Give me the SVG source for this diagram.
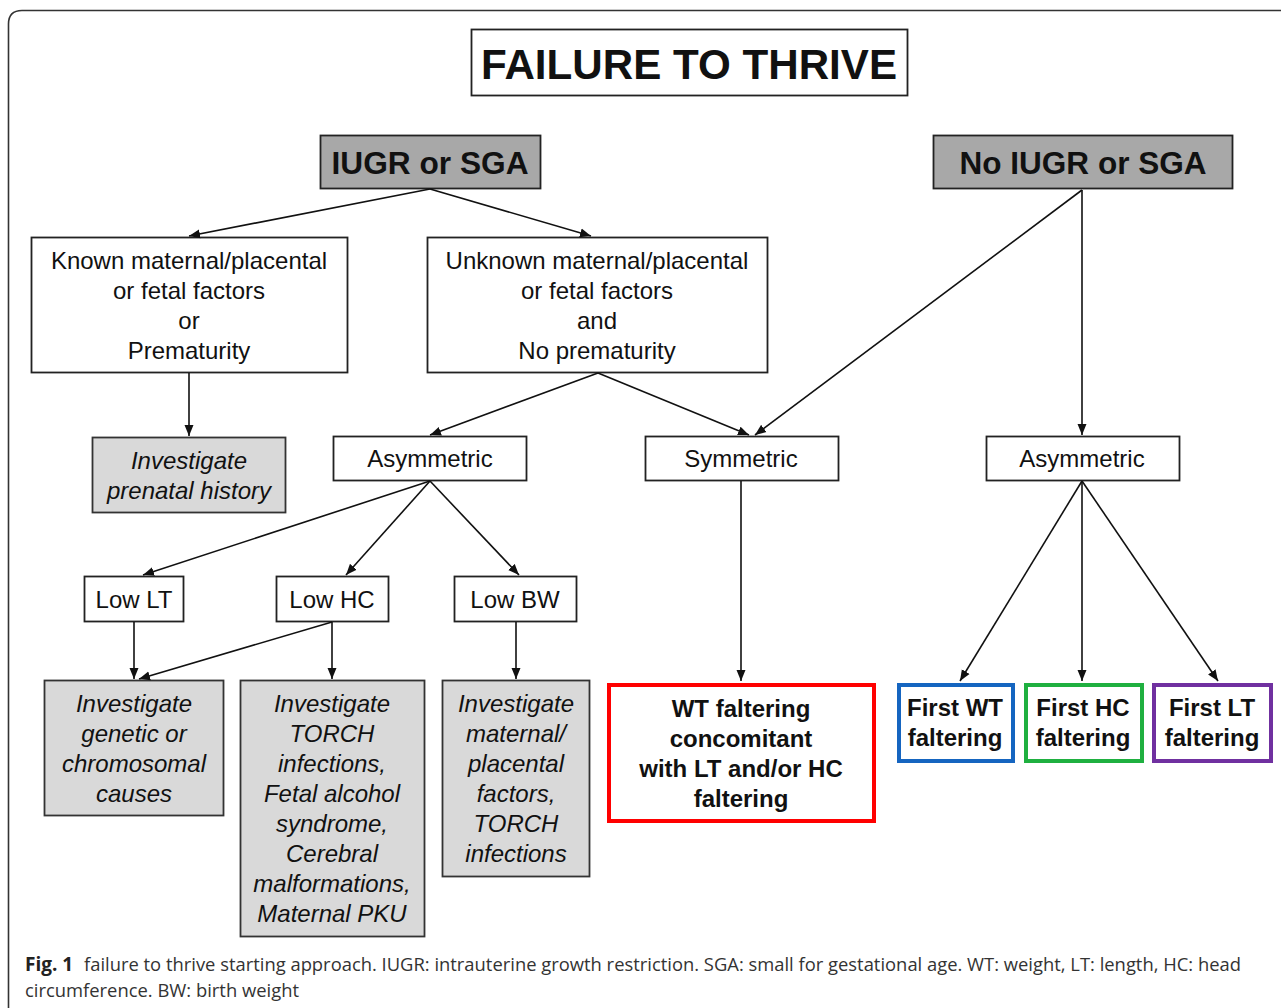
<svg xmlns="http://www.w3.org/2000/svg" width="1281" height="1008" viewBox="0 0 1281 1008">
<defs>
<marker id="ah" markerUnits="userSpaceOnUse" markerWidth="12" markerHeight="10" refX="11" refY="5" orient="auto">
<path d="M0,0.5 L11,5 L0,9.5 z" fill="#111"/>
</marker>
<style>
.box{fill:#fff;stroke:#222;stroke-width:1.8}
.dark{fill:#a8a8a8;stroke:#222;stroke-width:1.8}
.light{fill:#d9d9d9;stroke:#333;stroke-width:1.8}
.t{font-family:"Liberation Sans",Arial,sans-serif;font-size:24px;fill:#111;text-anchor:middle}
.i{font-style:italic}
.b{font-weight:bold}
.h{font-family:"Liberation Sans",Arial,sans-serif;font-weight:bold;font-size:32px;fill:#111;text-anchor:middle}
.c line{stroke:#111;stroke-width:1.6;marker-end:url(#ah)}
.cap{font-family:"Open Sans","Noto Sans",sans-serif;font-size:19px;fill:#333}
</style>
</defs>
<rect width="1281" height="1008" fill="#fff"/>
<path d="M8.5,1008 L8.5,24 Q8.5,10.5 22,10.5 L1281,10.5" fill="none" stroke="#333" stroke-width="1.6"/>

<g id="title">
<rect x="471.5" y="29.5" width="436" height="66" class="box"/>
<text x="689" y="79" class="h" font-size="42" style="font-size:42px" textLength="416" lengthAdjust="spacingAndGlyphs">FAILURE TO THRIVE</text>
</g>
<g id="iugr">
<rect x="320.5" y="135.5" width="220" height="53" class="dark"/>
<text x="430" y="174" class="h" textLength="197" lengthAdjust="spacingAndGlyphs">IUGR or SGA</text>
</g>
<g id="noiugr">
<rect x="933.5" y="135.5" width="299" height="53" class="dark"/>
<text x="1083" y="174" class="h" textLength="247" lengthAdjust="spacingAndGlyphs">No IUGR or SGA</text>
</g>
<g id="known">
<rect x="31.5" y="237.5" width="316" height="135" class="box"/>
<text class="t"><tspan x="189" y="269">Known maternal/placental</tspan><tspan x="189" y="299">or fetal factors</tspan><tspan x="189" y="329">or</tspan><tspan x="189" y="359">Prematurity</tspan></text>
</g>
<g id="unknown">
<rect x="427.5" y="237.5" width="340" height="135" class="box"/>
<text class="t"><tspan x="597" y="269">Unknown maternal/placental</tspan><tspan x="597" y="299">or fetal factors</tspan><tspan x="597" y="329">and</tspan><tspan x="597" y="359">No prematurity</tspan></text>
</g>
<g id="prenatal">
<rect x="92.5" y="437.5" width="193" height="75" class="light"/>
<text class="t i"><tspan x="189" y="469">Investigate</tspan><tspan x="189" y="499">prenatal history</tspan></text>
</g>
<g id="asym1">
<rect x="333.5" y="436.5" width="193" height="44" class="box"/>
<text x="430" y="467" class="t">Asymmetric</text>
</g>
<g id="sym">
<rect x="645.5" y="436.5" width="193" height="44" class="box"/>
<text x="741" y="467" class="t">Symmetric</text>
</g>
<g id="asym2">
<rect x="986.5" y="436.5" width="193" height="44" class="box"/>
<text x="1082" y="467" class="t">Asymmetric</text>
</g>
<g id="lowlt">
<rect x="84.5" y="576.5" width="99" height="45" class="box"/>
<text x="134" y="608" class="t">Low LT</text>
</g>
<g id="lowhc">
<rect x="276.5" y="576.5" width="112" height="45" class="box"/>
<text x="332" y="608" class="t">Low HC</text>
</g>
<g id="lowbw">
<rect x="454.5" y="576.5" width="122" height="45" class="box"/>
<text x="515" y="608" class="t">Low BW</text>
</g>
<g id="genetic">
<rect x="44.5" y="680.5" width="179" height="135" class="light"/>
<text class="t i"><tspan x="134" y="712">Investigate</tspan><tspan x="134" y="742">genetic or</tspan><tspan x="134" y="772">chromosomal</tspan><tspan x="134" y="802">causes</tspan></text>
</g>
<g id="torch">
<rect x="240.5" y="680.5" width="184" height="256" class="light"/>
<text class="t i"><tspan x="332" y="712">Investigate</tspan><tspan x="332" y="742">TORCH</tspan><tspan x="332" y="772">infections,</tspan><tspan x="332" y="802">Fetal alcohol</tspan><tspan x="332" y="832">syndrome,</tspan><tspan x="332" y="862">Cerebral</tspan><tspan x="332" y="892">malformations,</tspan><tspan x="332" y="922">Maternal PKU</tspan></text>
</g>
<g id="maternal">
<rect x="442.5" y="680.5" width="147" height="196" class="light"/>
<text class="t i"><tspan x="516" y="712">Investigate</tspan><tspan x="516" y="742">maternal/</tspan><tspan x="516" y="772">placental</tspan><tspan x="516" y="802">factors,</tspan><tspan x="516" y="832">TORCH</tspan><tspan x="516" y="862">infections</tspan></text>
</g>
<g id="wtconc">
<rect x="609" y="685" width="265" height="136" fill="#fff" stroke="#f00" stroke-width="4"/>
<text class="t b"><tspan x="741" y="717">WT faltering</tspan><tspan x="741" y="747">concomitant</tspan><tspan x="741" y="777">with LT and/or HC</tspan><tspan x="741" y="807">faltering</tspan></text>
</g>
<g id="firstwt">
<rect x="899" y="685" width="114" height="76" fill="#fff" stroke="#1565c0" stroke-width="4"/>
<text class="t b"><tspan x="955" y="716">First WT</tspan><tspan x="955" y="746">faltering</tspan></text>
</g>
<g id="firsthc">
<rect x="1026" y="685" width="116" height="76" fill="#fff" stroke="#1fb040" stroke-width="4"/>
<text class="t b"><tspan x="1083" y="716">First HC</tspan><tspan x="1083" y="746">faltering</tspan></text>
</g>
<g id="firstlt">
<rect x="1154" y="685" width="117" height="76" fill="#fff" stroke="#7030a0" stroke-width="4"/>
<text class="t b"><tspan x="1212" y="716">First LT</tspan><tspan x="1212" y="746">faltering</tspan></text>
</g>

<g id="connectors" class="c">
<line x1="430" y1="189" x2="189" y2="236"/>
<line x1="430" y1="189" x2="591" y2="236"/>
<line x1="189" y1="373" x2="189" y2="436"/>
<line x1="598" y1="373" x2="430" y2="435"/>
<line x1="598" y1="373" x2="749" y2="435"/>
<line x1="1082" y1="190" x2="755" y2="435"/>
<line x1="1082" y1="190" x2="1082" y2="435"/>
<line x1="430" y1="481" x2="143" y2="575"/>
<line x1="430" y1="481" x2="346" y2="575"/>
<line x1="430" y1="481" x2="519" y2="575"/>
<line x1="134" y1="622" x2="134" y2="679"/>
<line x1="332" y1="622" x2="139" y2="679"/>
<line x1="332" y1="622" x2="332" y2="679"/>
<line x1="516" y1="622" x2="516" y2="679"/>
<line x1="741" y1="481" x2="741" y2="681"/>
<line x1="1082" y1="481" x2="960" y2="681"/>
<line x1="1082" y1="481" x2="1082" y2="681"/>
<line x1="1082" y1="481" x2="1218" y2="681"/>
</g>

<g id="caption">
<text x="25" y="971" class="cap" font-weight="bold" style="font-weight:bold;fill:#222">Fig. 1</text>
<text x="84" y="971" class="cap" textLength="1157" lengthAdjust="spacingAndGlyphs">failure to thrive starting approach. IUGR: intrauterine growth restriction. SGA: small for gestational age. WT: weight, LT: length, HC: head</text>
<text x="25" y="997" class="cap" textLength="274" lengthAdjust="spacingAndGlyphs">circumference. BW: birth weight</text>
</g>
</svg>
